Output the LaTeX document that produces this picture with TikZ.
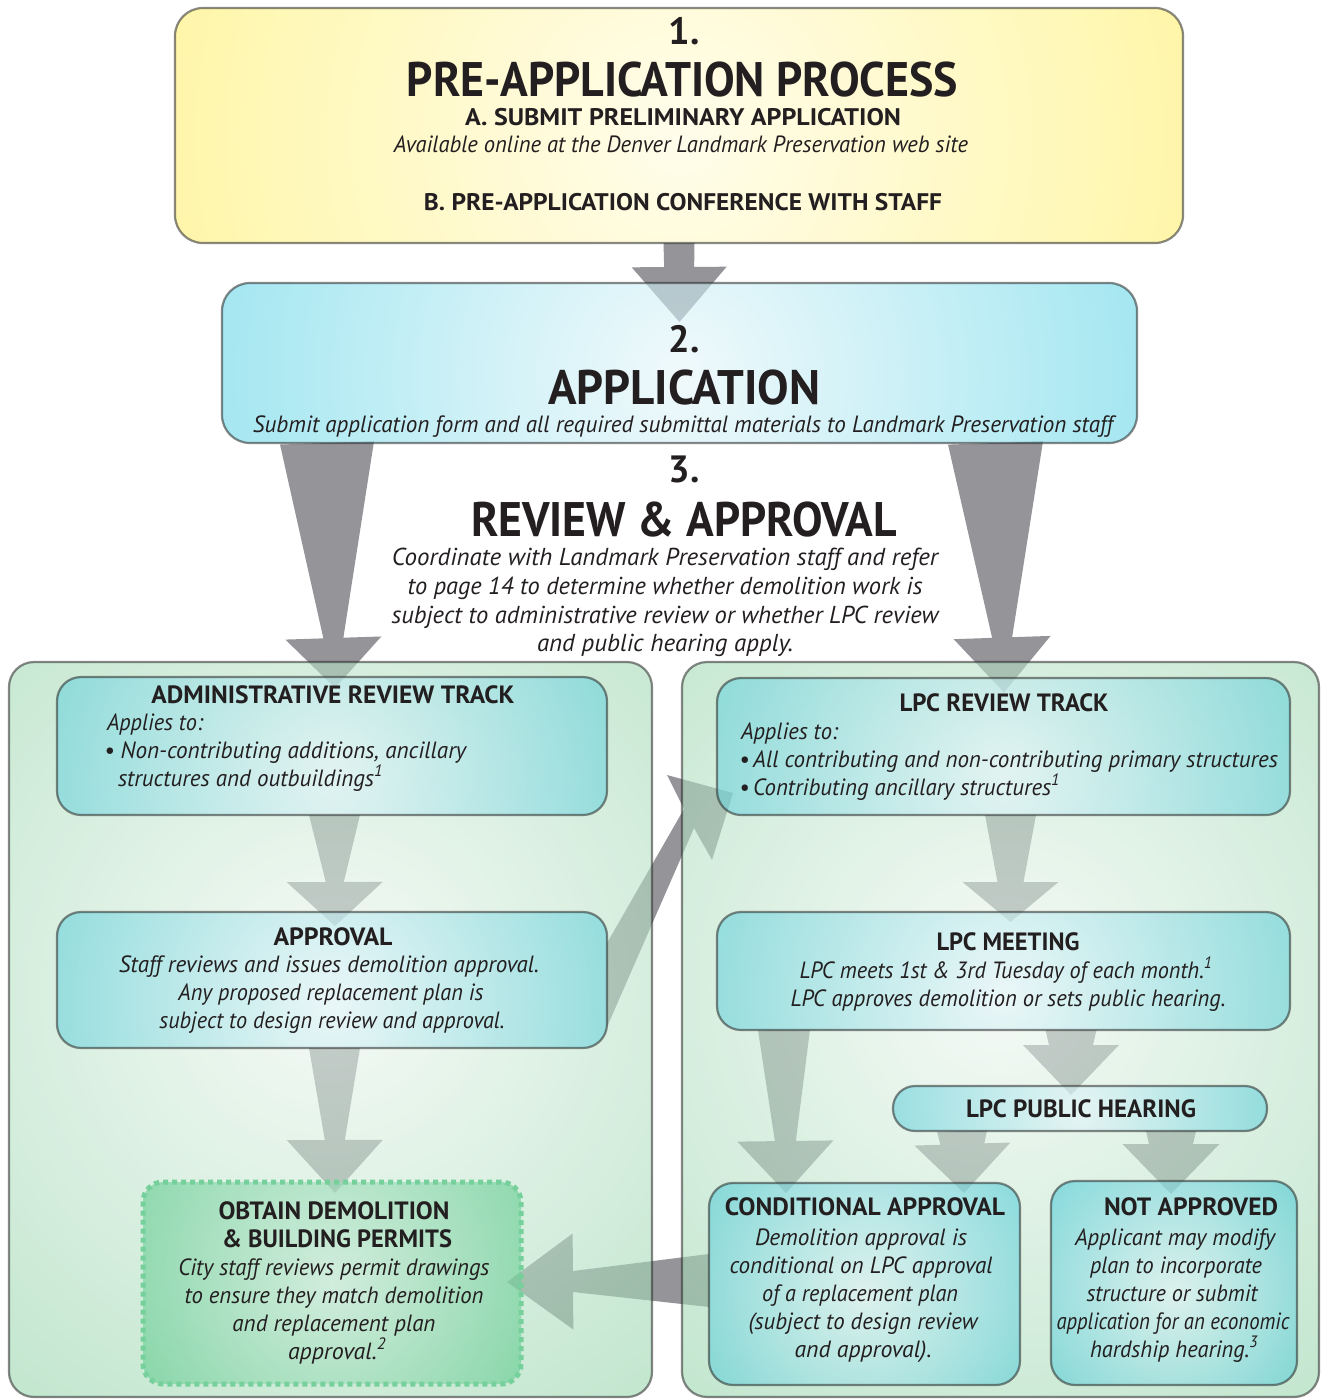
\documentclass[tikz,border=0pt]{standalone}
\usepackage{fontspec}
\setmainfont{PT Sans}
\usepackage{graphicx}
\usetikzlibrary{calc}
\pgfdeclarelayer{bg}
\pgfsetlayers{bg,main}

\definecolor{ink}{RGB}{35,31,32}
\definecolor{arrowgray}{RGB}{148,148,153}
\definecolor{bordc}{RGB}{40,40,40}
\definecolor{permborder}{RGB}{118,208,155}
\definecolor{yelin}{RGB}{255,252,222}
\definecolor{yelout}{RGB}{255,234,40}
\definecolor{cyanin}{RGB}{230,246,250}
\definecolor{cyanout}{RGB}{18,194,220}
\definecolor{tealin}{RGB}{228,245,249}
\definecolor{tealout}{RGB}{14,184,200}
\definecolor{greenin}{RGB}{205,236,218}
\definecolor{greenout}{RGB}{38,185,104}
\definecolor{panin}{RGB}{238,247,241}
\definecolor{panout}{RGB}{128,204,153}

\pgfdeclareradialshading{yelrad}{\pgfpointorigin}{color(0bp)=(yelin); color(40bp)=(yelout); color(50bp)=(yelout)}
\pgfdeclareradialshading{cyanrad}{\pgfpointorigin}{color(0bp)=(cyanin); color(40bp)=(cyanout); color(50bp)=(cyanout)}
\pgfdeclareradialshading{tealrad}{\pgfpointorigin}{color(0bp)=(tealin); color(40bp)=(tealout); color(50bp)=(tealout)}
\pgfdeclareradialshading{greenrad}{\pgfpointorigin}{color(0bp)=(greenin); color(40bp)=(greenout); color(50bp)=(greenout)}
\pgfdeclareradialshading{panrad}{\pgfpointorigin}{color(0bp)=(panin); color(40bp)=(panout); color(50bp)=(panout)}

\newcommand\fitw[2]{\resizebox{#1pt}{\height}{#2}}
\newcommand\fBig{\fontsize{48.5pt}{52pt}\selectfont\bfseries}
\newcommand\fNum{\fontsize{38pt}{40pt}\selectfont\bfseries}
\newcommand\fSub{\fontsize{24pt}{26pt}\selectfont\bfseries}
\newcommand\fHd{\fontsize{25pt}{27pt}\selectfont\bfseries}
\newcommand\fIt{\fontsize{23.5pt}{26pt}\selectfont\itshape}
\newcommand\fPar{\fontsize{24.5pt}{27pt}\selectfont\itshape}

\newcommand\fatarrow[6]{%
  \coordinate (fap) at ($(#2)!#6pt!(#1)$);
  \fill[arrowfill] ($(#1)!#3pt!90:(#2)$) -- ($(fap)!#4pt!90:(#2)$) -- ($(fap)!#5pt!90:(#2)$) -- (#2) -- ($(fap)!#5pt!-90:(#2)$) -- ($(fap)!#4pt!-90:(#2)$) -- ($(#1)!#3pt!-90:(#2)$) -- cycle;}

\tikzset{
  arrowfill/.style={fill=arrowgray},
  bx/.style n args={3}{draw=bordc, draw opacity=0.55, line width=2.2pt,
    rounded corners=#3, minimum width=#1, minimum height=#2,
    inner sep=0pt, outer sep=0pt},
  shd/.style n args={3}{path picture={\shade[shading=#1, fill opacity=0.58]
    ($(path picture bounding box.center)+(#2)$) ++(-#3,-#3) rectangle ++(2*#3,2*#3);}},
  permbx/.style={draw=permborder, line width=5pt, dash pattern=on 5pt off 4pt,
    rounded corners=20pt, minimum width=378pt, minimum height=202pt,
    inner sep=0pt, outer sep=0pt},
  tx/.style={anchor=base, inner sep=0pt, outer sep=0pt, text=ink},
  txl/.style={anchor=base west, inner sep=0pt, outer sep=0pt, text=ink},
}

\begin{document}
\begin{tikzpicture}[x=1pt,y=-1pt]
\useasboundingbox (0,0) rectangle (1322,1399);

% ---------- boxes ----------
\node[bx={1008pt}{235pt}{28pt}, shd={yelrad}{0,10}{518}] (pre) at (679,125.5) {};
\node[bx={915pt}{160pt}{28pt}, shd={cyanrad}{0,10}{472}] (app) at (679.5,363) {};
\node[bx={643pt}{735pt}{25pt}, shd={panrad}{0,-40}{412}] (pl) at (330.5,1029.5) {};
\node[bx={637pt}{735pt}{25pt}, shd={panrad}{0,-40}{412}] (pr) at (1000.5,1029.5) {};
\node[bx={550pt}{138pt}{24pt}, shd={tealrad}{0,25}{302}] (adm) at (332,746) {};
\node[bx={550pt}{136pt}{24pt}, shd={tealrad}{0,25}{302}] (apr) at (332,980) {};
\node[permbx, shd={greenrad}{0,0}{194}] (per) at (332,1283) {};
\node[bx={573pt}{137pt}{24pt}, shd={tealrad}{0,25}{314}] (lpc) at (1003.5,746.5) {};
\node[bx={573pt}{118pt}{24pt}, shd={tealrad}{0,25}{314}] (mtg) at (1003.5,971) {};
\node[bx={374pt}{45pt}{22pt}, shd={tealrad}{0,5}{196}] (hear) at (1080,1108.5) {};
\node[bx={311pt}{202pt}{24pt}, shd={tealrad}{0,10}{170}] (cond) at (864.5,1284) {};
\node[bx={246pt}{204pt}{24pt}, shd={tealrad}{0,10}{140}] (nota) at (1174,1283) {};

% ---------- arrows (behind the translucent boxes) ----------
\begin{pgfonlayer}{bg}
\fill[white] (0,0) rectangle (1322,1399);
\coordinate (a1s) at (pre.south);
\coordinate (a1t) at ($(app.north)+(0,39)$);
\fatarrow{a1s}{a1t}{15.5}{15}{47.5}{55}
\coordinate (a2s) at ($(app.south)+(-352.5,0)$);
\coordinate (a2t) at ($(adm.north)+(3,11)$);
\fatarrow{a2s}{a2t}{47}{10}{48}{50}
\coordinate (a3s) at ($(app.south)+(316,0)$);
\coordinate (a3t) at ($(lpc.north)+(0.5,14.5)$);
\fatarrow{a3s}{a3t}{47.5}{10}{48.5}{55}
\coordinate (a4s) at ($(adm.south)+(2.5,0)$);
\coordinate (a4t) at ($(apr.north)+(3,14)$);
\fatarrow{a4s}{a4t}{25.5}{9}{48}{44}
\coordinate (a5s) at ($(apr.south)+(2.5,0)$);
\coordinate (a5t) at ($(per.north)+(3,11)$);
\fatarrow{a5s}{a5t}{25.5}{10}{48}{53}
\coordinate (a6s) at ($(lpc.south)+(7,0)$);
\coordinate (a6t) at ($(mtg.north)+(7,10)$);
\fatarrow{a6s}{a6t}{25.5}{13}{48}{40}
\coordinate (a7s) at ($(mtg.south)+(-219.5,0)$);
\coordinate (a7t) at ($(cond.north)+(-78.5,10)$);
\fatarrow{a7s}{a7t}{26}{10.5}{48}{52}
\coordinate (a8s) at ($(mtg.south)+(67.5,0)$);
\coordinate (a8t) at ($(hear.north)+(-9,9)$);
\fatarrow{a8s}{a8t}{25.5}{22}{48}{50}
\coordinate (a9s) at ($(hear.south)+(-118,0)$);
\coordinate (a9t) at ($(cond.north)+(99.5,10)$);
\fatarrow{a9s}{a9t}{25}{22}{48}{49}
\coordinate (a10s) at ($(hear.south)+(91,0)$);
\coordinate (a10t) at ($(nota.north)+(-3,13)$);
\fatarrow{a10s}{a10t}{25}{22}{48.5}{50}
\coordinate (a11s) at ($(cond.west)+(0,-3.5)$);
\coordinate (a11t) at ($(per.east)+(-14,-1)$);
\fatarrow{a11s}{a11t}{26.5}{10.5}{48}{66}
% diagonal arrow approval -> LPC review track
\coordinate (d1) at ($(apr.east)+(0,-37)$);
\coordinate (d2) at ($(lpc.west)+(-33,62.5)$);
\coordinate (d3) at ($(lpc.west)+(-50,28.5)$);
\coordinate (d4) at ($(lpc.west)+(16,46.5)$);
\coordinate (d5) at ($(lpc.west)+(-5,113.5)$);
\coordinate (d6) at ($(lpc.west)+(-23,81.5)$);
\coordinate (d7) at ($(apr.east)+(0,47)$);
\fill[arrowfill] (d1) -- (d2) -- (d3) -- (d4) -- (d5) -- (d6) -- (d7) -- cycle;
\end{pgfonlayer}

% ---------- texts ----------
\node[tx, font=\fNum] (n1) at (684,45) {1.};
\node[tx, font=\fBig] (n1t) at (682.5,97) {\fitw{551}{PRE-APPLICATION PROCESS}};
\node[tx, font=\fSub] (n1a) at (683,126) {\fitw{436}{A. SUBMIT PRELIMINARY APPLICATION}};
\node[tx, font=\fIt] (n1b) at (681,153) {\fitw{574}{Available online at the Denver Landmark Preservation web site}};
\node[tx, font=\fSub] (n1c) at (683,211) {\fitw{518}{B. PRE-APPLICATION CONFERENCE WITH STAFF}};

\node[tx, font=\fNum] (n2) at (684,352) {2.};
\node[tx, font=\fBig] (n2t) at (684,404) {\fitw{272}{APPLICATION}};
\node[tx, font=\fIt] (n2s) at (683,432) {\fitw{860}{Submit application form and all required submittal materials to Landmark Preservation staff}};

\node[tx, font=\fNum] (n3) at (684,482) {3.};
\node[tx, font=\fBig] (n3t) at (684,536) {\fitw{426}{REVIEW \& APPROVAL}};
\node[tx, font=\fPar] (p1) at (665,565) {\fitw{546}{Coordinate with Landmark Preservation staff and refer}};
\node[tx, font=\fPar] (p2) at (665,594) {\fitw{515}{to page 14 to determine whether demolition work is}};
\node[tx, font=\fPar] (p3) at (665,623) {\fitw{547}{subject to administrative review or whether LPC review}};
\node[tx, font=\fPar] (p4) at (665,651) {\fitw{256}{and public hearing apply.}};

\node[tx, font=\fHd] (ah) at (333,703) {\fitw{363}{ADMINISTRATIVE REVIEW TRACK}};
\node[txl, font=\fIt] (aa) at (107,730) {\fitw{96}{Applies to:}};
\node[txl, font=\fIt] (ab) at (104,758) {\fitw{362}{\textbullet\ Non-contributing additions, ancillary}};
\node[txl, font=\fIt] (ac) at (118,786) {\fitw{265}{structures and outbuildings\textsuperscript{1}}};

\node[tx, font=\fHd] (ph) at (333,945) {\fitw{119}{APPROVAL}};
\node[tx, font=\fIt] (pa) at (329,972) {\fitw{420}{Staff reviews and issues demolition approval.}};
\node[tx, font=\fIt] (pb) at (331,1000) {\fitw{305}{Any proposed replacement plan is}};
\node[tx, font=\fIt] (pc) at (332,1028) {\fitw{345}{subject to design review and approval.}};

\node[tx, font=\fHd] (oh1) at (334,1219) {\fitw{231}{OBTAIN DEMOLITION}};
\node[tx, font=\fHd] (oh2) at (337,1247) {\fitw{230}{\& BUILDING PERMITS}};
\node[tx, font=\fIt] (oa) at (334,1275) {\fitw{311}{City staff reviews permit drawings}};
\node[tx, font=\fIt] (ob) at (334,1303) {\fitw{299}{to ensure they match demolition}};
\node[tx, font=\fIt] (oc) at (334,1331) {\fitw{203}{and replacement plan}};
\node[tx, font=\fIt] (od) at (337,1359) {\fitw{98}{approval.\textsuperscript{2}}};

\node[tx, font=\fHd] (lh) at (1004,711) {\fitw{209}{LPC REVIEW TRACK}};
\node[txl, font=\fIt] (la) at (741,739) {\fitw{97}{Applies to:}};
\node[txl, font=\fIt] (lb) at (739,767) {\fitw{539}{\textbullet\,All contributing and non-contributing primary structures}};
\node[txl, font=\fIt] (lc) at (739,795) {\fitw{321}{\textbullet\,Contributing ancillary structures\textsuperscript{1}}};

\node[tx, font=\fHd] (mh) at (1008,950) {\fitw{143}{LPC MEETING}};
\node[tx, font=\fIt] (ma) at (1006,978) {\fitw{413}{LPC meets 1st \& 3rd Tuesday of each month.\textsuperscript{1}}};
\node[tx, font=\fIt] (mb) at (1008,1006) {\fitw{435}{LPC approves demolition or sets public hearing.}};

\node[tx, font=\fHd] (hh) at (1081,1117) {\fitw{230}{LPC PUBLIC HEARING}};

\node[tx, font=\fHd] (ch) at (865,1215) {\fitw{280}{CONDITIONAL APPROVAL}};
\node[tx, font=\fIt] (ca) at (861,1245) {\fitw{212}{Demolition approval is}};
\node[tx, font=\fIt] (cb) at (861,1273) {\fitw{263}{conditional on LPC approval}};
\node[tx, font=\fIt] (cc) at (860,1301) {\fitw{196}{of a replacement plan}};
\node[tx, font=\fIt] (cd) at (863,1329) {\fitw{229}{(subject to design review}};
\node[tx, font=\fIt] (ce) at (863,1357) {\fitw{137}{and approval).}};

\node[tx, font=\fHd] (nh) at (1191,1215) {\fitw{174}{NOT APPROVED}};
\node[tx, font=\fIt] (na) at (1175,1245) {\fitw{200}{Applicant may modify}};
\node[tx, font=\fIt] (nb) at (1176,1273) {\fitw{172}{plan to incorporate}};
\node[tx, font=\fIt] (nc) at (1172,1301) {\fitw{171}{structure or submit}};
\node[tx, font=\fIt] (nd) at (1173,1329) {\fitw{233}{application for an economic}};
\node[tx, font=\fIt] (ne) at (1174,1357) {\fitw{168}{hardship hearing.\textsuperscript{3}}};
\end{tikzpicture}
\end{document}
